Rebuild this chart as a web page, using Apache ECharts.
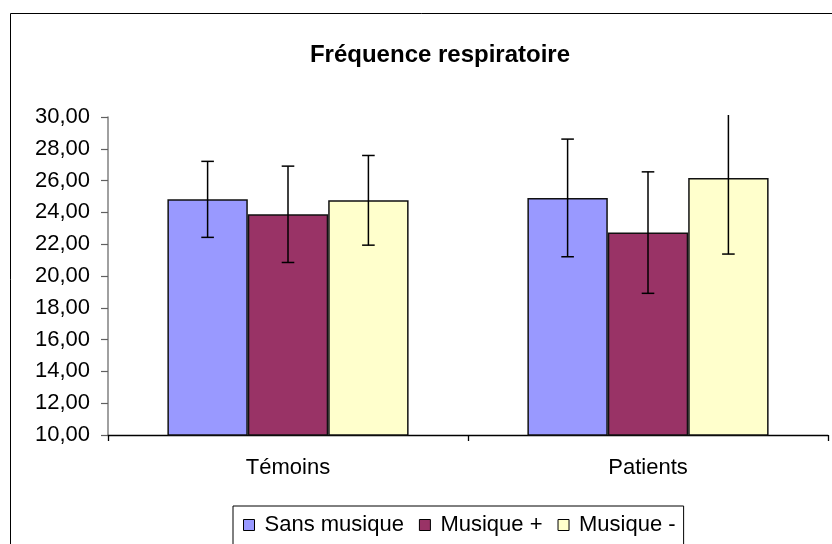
<!DOCTYPE html>
<html>
<head>
<meta charset="utf-8">
<script src="https://cdn.jsdelivr.net/npm/echarts@6/dist/echarts.min.js"></script>
<style>
  html, body { margin: 0; padding: 0; background: #fff; }
  #chart { width: 832px; height: 544px; }
</style>
</head>
<body>
<div id="chart"></div>
<script>
// Respiratory rate by group and music condition (mean ± SD)
var categories = ['Témoins', 'Patients'];
var seriesNames = ['Sans musique', 'Musique +', 'Musique -'];
var sansMusique = [24.82, 24.91];
var musiquePlus = [23.88, 22.73];
var musiqueMoins = [24.76, 26.16];
var sdSansMusique = [2.39, 3.70];
var sdMusiquePlus = [3.03, 3.82];
var sdMusiqueMoins = [2.82, 4.78];
var yTicks = [10, 12, 14, 16, 18, 20, 22, 24, 26, 28, 30];

var means = [sansMusique, musiquePlus, musiqueMoins];
var sds = [sdSansMusique, sdMusiquePlus, sdMusiqueMoins];
var colors = ['#9999FF', '#993366', '#FFFFCC'];
var FONT = '"Liberation Sans", Arial, sans-serif';
var GAP = 0.33;

var chart = echarts.init(document.getElementById('chart'), null, { renderer: 'canvas' });

function errorSeries(k) {
  var data = categories.map(function (c, i) {
    return [i, means[k][i], means[k][i] - sds[k][i], means[k][i] + sds[k][i]];
  });
  return {
    type: 'custom',
    name: 'err' + k,
    z: 10,
    clip: false,
    silent: true,
    data: data,
    encode: { x: 0, y: [1, 2, 3] },
    renderItem: function (params, api) {
      var idx = api.value(0);
      var catW = api.size([1, 0])[0];
      var barW = catW * (1 - GAP) / 3;
      var center = api.coord([idx, api.value(1)]);
      var x = center[0] + (k - 1) * barW;
      var yLow = api.coord([idx, api.value(2)])[1];
      var yHigh = api.coord([idx, api.value(3)])[1];
      // bars running past the top of the plot are cut there, without a cap
      var topLimit = params.coordSys.y - 2;
      var clipped = yHigh < topLimit;
      if (clipped) yHigh = topLimit;
      var half = 6.3;
      var style = { stroke: '#000', lineWidth: 1.5 };
      var children = [
        { type: 'line', shape: { x1: x, y1: yHigh, x2: x, y2: yLow }, style: style },
        { type: 'line', shape: { x1: x - half, y1: yLow, x2: x + half, y2: yLow }, style: style }
      ];
      if (!clipped) {
        children.push({ type: 'line', shape: { x1: x - half, y1: yHigh, x2: x + half, y2: yHigh }, style: style });
      }
      return { type: 'group', children: children };
    }
  };
}

var barSeries = seriesNames.map(function (name, k) {
  return {
    type: 'bar',
    name: name,
    data: means[k],
    barGap: '0%',
    barCategoryGap: (GAP * 100) + '%',
    itemStyle: { color: colors[k], borderColor: '#111', borderWidth: 1.5 }
  };
});

var option = {
  animation: false,
  backgroundColor: '#fff',
  graphic: [{
    type: 'rect',
    shape: { x: 10.5, y: 13.5, width: 1000, height: 1000 },
    style: { fill: 'none', stroke: '#000', lineWidth: 1 },
    silent: true
  }],
  title: {
    text: 'Fréquence respiratoire',
    left: 435,
    top: 38,
    textAlign: 'center',
    textStyle: { fontFamily: FONT, fontSize: 24, fontWeight: 'bold', color: '#000' }
  },
  legend: {
    data: seriesNames,
    left: 233,
    top: 506,
    orient: 'horizontal',
    padding: [8, 8, 20, 10],
    itemGap: 15,
    itemWidth: 11,
    itemHeight: 11,
    borderColor: '#000',
    borderWidth: 1,
    icon: 'rect',
    itemStyle: { borderColor: '#000', borderWidth: 1 },
    textStyle: { fontFamily: FONT, fontSize: 22, color: '#000', padding: [0, 0, 0, 5] }
  },
  grid: { left: 108, right: 4, top: 117, bottom: 109, containLabel: false },
  xAxis: {
    type: 'category',
    data: categories,
    boundaryGap: true,
    axisLine: { lineStyle: { color: '#000', width: 1.3 } },
    axisTick: { show: true, length: 6, lineStyle: { color: '#000', width: 1.3 } },
    axisLabel: { margin: 22, fontFamily: FONT, fontSize: 22, color: '#000' },
    splitLine: { show: false }
  },
  yAxis: {
    type: 'value',
    min: yTicks[0],
    max: yTicks[yTicks.length - 1],
    interval: yTicks[1] - yTicks[0],
    axisLine: { show: true, lineStyle: { color: '#808080', width: 1.5 } },
    axisTick: { show: true, length: 7, lineStyle: { color: '#606060', width: 1.2 } },
    axisLabel: {
      margin: 18,
      fontFamily: FONT,
      fontSize: 22,
      color: '#000',
      formatter: function (v) { return v.toFixed(2).replace('.', ','); }
    },
    splitLine: { show: false }
  },
  series: barSeries.concat([errorSeries(0), errorSeries(1), errorSeries(2)])
};

chart.setOption(option);
</script>
</body>
</html>
